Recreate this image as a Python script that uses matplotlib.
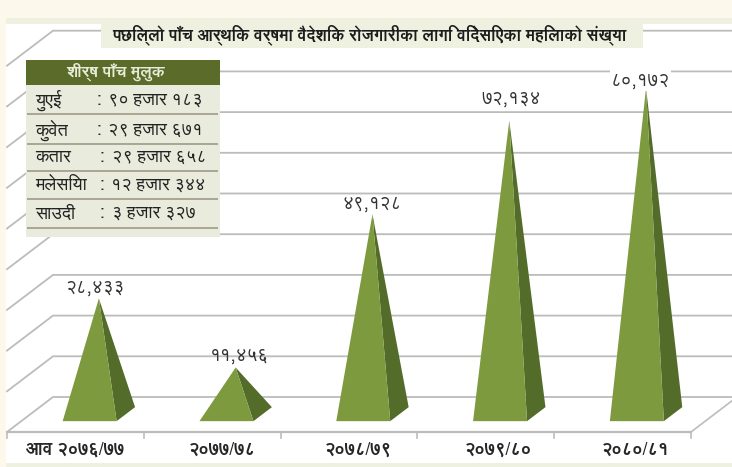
import matplotlib
matplotlib.use('Agg')
import matplotlib.pyplot as plt
from matplotlib.patches import Polygon, Rectangle

plt.rcParams['font.family'] = ['FreeSans', 'Unifont', 'DejaVu Sans']

# Chart data
years = ['आव २०७६/७७', '२०७७/७८', '२०७८/७९', '२०७९/८०', '२०८०/८१']
women = [28433, 11456, 49128, 72134, 80172]
value_labels = ['२८,४३३', '११,४५६', '४९,१२८', '७२,१३४', '८०,१७२']
grid_values = [0, 10000, 20000, 30000, 40000, 50000, 60000, 70000, 80000, 90000]

title = 'पछिल्लो पाँच आर्थिक वर्षमा वैदेशिक रोजगारीका लागि विदेसिएका महिलाको संख्या'
table_title = 'शीर्ष पाँच मुलुक'
countries = ['युएई', 'कुवेत', 'कतार', 'मलेसिया', 'साउदी']
country_counts = ['९० हजार १८३', '२९ हजार ६७१', '२९ हजार ६५८', '१२ हजार ३४४', '३ हजार ३२७']

W, H = 732, 467
CREAM = '#fdf8ec'
PALE = '#eef0e0'
FRONT = '#7d9a3f'
SIDE = '#546c2a'
GRID = '#bcbcba'

# scale of the picture
px_per_cat = 136.8
px_per_val = 4.07 / 1000
depth_x = 46 / px_per_cat      # floor depth, in category units
depth_y = 35 / px_per_val      # floor depth, in value units
half_w = 27 / px_per_cat


def proj(cat, value, depth):
    # oblique projection: depth 0 is the front edge of the floor, 1 the back wall
    return cat + depth * depth_x, value + depth * depth_y


def fig_box(x0, y0, x1, y1, color, zorder=3):
    # rectangle given in picture pixels from the top-left corner
    fig.add_artist(Rectangle((x0 / W, 1 - y1 / H), (x1 - x0) / W, (y1 - y0) / H,
                             transform=fig.transFigure, fc=color, ec='none', zorder=zorder))


fig = plt.figure(figsize=(W / 100, H / 100), dpi=100, facecolor=CREAM)
ax = fig.add_axes([6 / W, 1 - 463 / H, 726 / W, 439 / H], facecolor='white')
ax.set_xlim(-0.5 - 1 / px_per_cat, -0.5 + 725 / px_per_cat)
ax.set_ylim(-31 / px_per_val, 408 / px_per_val)
ax.axis('off')
ax.add_patch(Rectangle((0, 0), 1, 1, transform=ax.transAxes, fc='white', ec='none', zorder=0))

n = len(years)
# back wall and left wall gridlines
for v in grid_values:
    x_back, y_back = proj(-0.5, v, 1)
    x_front, y_front = proj(-0.5, v, 0)
    right = ax.get_xlim()[1]
    ax.plot([x_front, x_back, right], [y_front, y_back, y_back], color=GRID, lw=1.3, zorder=1)

# floor edges and ticks
floor_x = [-0.5, n - 0.5]
ax.plot(floor_x, [0, 0], color=GRID, lw=1.6, zorder=1)
x_back, y_back = proj(n - 0.5, 0, 1)
ax.plot([n - 0.5, x_back], [0, y_back], color=GRID, lw=1.2, zorder=1)
for i in range(n + 1):
    ax.plot([i - 0.5, i - 0.5], [0, -6 / 4.07 * 1000], color=GRID, lw=1.2, zorder=1)

# pyramids
front_depth, back_depth, apex_depth = 0.31, 0.71, 0.51
for i, v in enumerate(women):
    fl = proj(i - half_w, 0, front_depth)
    fr = proj(i + half_w, 0, front_depth)
    br = proj(i + half_w, 0, back_depth)
    apex = proj(i, v, apex_depth)
    ax.add_patch(Polygon([fr, br, apex], fc=SIDE, ec='none', zorder=2))
    ax.add_patch(Polygon([fl, fr, apex], fc=FRONT, ec='none', zorder=2.1))

# value labels above each apex
label_shift = [(-3, 1), (3, 2), (0, 1), (1, 9), (-4, -1)]
for i, v in enumerate(women):
    ax.annotate(value_labels[i], proj(i, v, apex_depth), xytext=label_shift[i],
                textcoords='offset points', ha='center', va='bottom', fontsize=13.5,
                color='#333333', zorder=4,
                bbox=dict(fc='white', ec='none', pad=1) if i == 4 else None)

# year labels, they sit a little right of the tick centres
year_shift = [0, 7, 7, 9, 9]
for i, lab in enumerate(years):
    ax.annotate(lab, (i, 0), xytext=(year_shift[i], -13), textcoords='offset points',
                ha='center', va='center', fontsize=13, fontweight='bold', color='#262626', zorder=4)

# top and bottom bands, title box
fig_box(6, 18, 732, 24, PALE)
fig_box(6, 463, 732, 467, PALE)
fig_box(101, 24, 643, 48, PALE)
fig.text(369 / W, 1 - 35 / H, title, ha='center', va='center', fontsize=11.9,
         fontweight='bold', color='#1c1c1c', zorder=5)

# table of the top five countries
tx0, tx1 = 26, 220
fig_box(tx0, 60, tx1, 237, '#e9ebdc')
fig_box(tx0, 60, tx1, 85, '#5a6b2a', zorder=4)
fig.text(116 / W, 1 - 72 / H, table_title, ha='center', va='center', fontsize=11.8,
         fontweight='bold', color='#e8ebd8', zorder=5)
row_lines = [114, 144, 171, 199, 228]
row_mids = [100, 130, 157, 185, 213]
colon_x = [96, 96, 99, 99, 99]
count_x = [108, 108, 112, 111, 112]
for name, count, line_y, mid, cx, vx in zip(countries, country_counts, row_lines, row_mids, colon_x, count_x):
    fig_box(tx0 + 1, line_y - 1, tx1 - 2, line_y + 1, '#aba794', zorder=4)
    fig.text(35 / W, 1 - mid / H, name, ha='left', va='center', fontsize=13, color='#222222', zorder=5)
    fig.text(cx / W, 1 - mid / H, ':', ha='left', va='center', fontsize=13, color='#222222', zorder=5)
    fig.text(vx / W, 1 - mid / H, count, ha='left', va='center', fontsize=13, color='#222222', zorder=5)

fig.savefig('out.png', dpi=100, facecolor=fig.get_facecolor())
